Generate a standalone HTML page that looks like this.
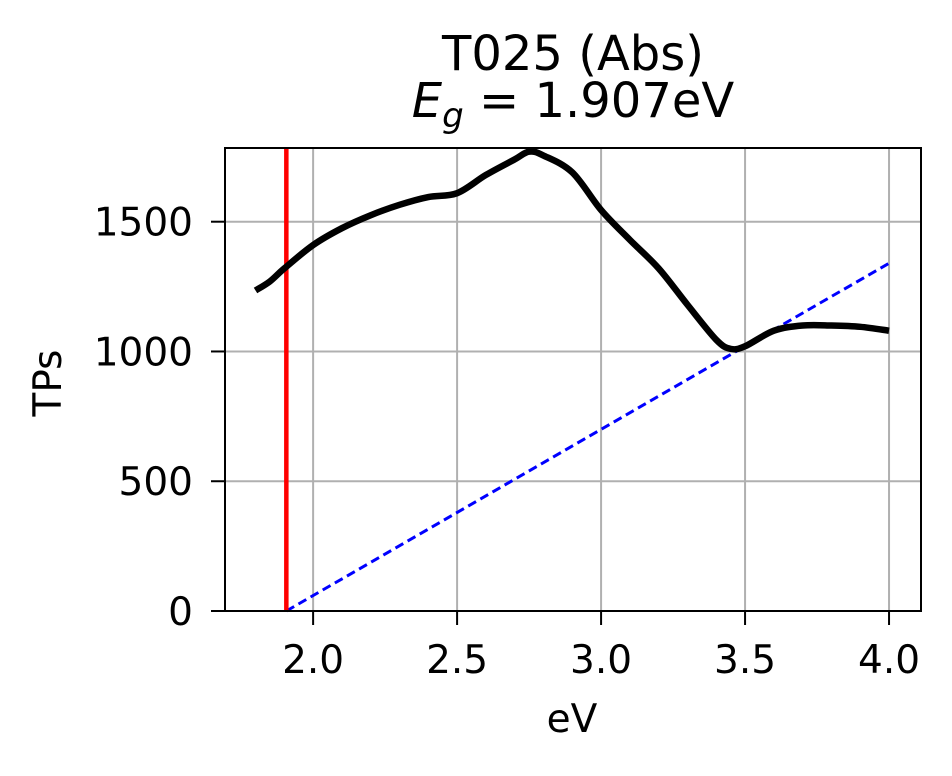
<!DOCTYPE html>
<html><head><meta charset="utf-8"><style>
body{margin:0;background:#fff}
svg text{font-family:"DejaVu Sans","Liberation Sans",sans-serif;fill:#000}
</style></head><body>
<svg width="952" height="771" viewBox="0 0 952 771">
<g id="grid"></g>
<g id="marks"></g>
<rect x="225" y="148" width="696" height="463" fill="none" stroke="#000" stroke-width="2"/>
<g id="ticks"></g>
<text x="573" y="70" style="font-size:48px" text-anchor="middle">T025 (Abs)</text>
<text x="573" y="117" style="font-size:48px" text-anchor="middle"><tspan font-style="italic">E</tspan><tspan font-style="italic" style="font-size:34px" dy="10">g</tspan><tspan dy="-10"> = 1.907eV</tspan></text>
<text x="572" y="732" style="font-size:39px" text-anchor="middle">eV</text>
<text x="0" y="0" style="font-size:39px" text-anchor="middle" transform="translate(61,383) rotate(-90)">TPs</text>
</svg>
<script>
const xTicks=[2.0,2.5,3.0,3.5,4.0];
const xTickLabels=["2.0","2.5","3.0","3.5","4.0"];
const yTicks=[0,500,1000,1500];
const yTickLabels=["0","500","1000","1500"];
const curveX=[1.8,1.85,1.9,2.0,2.1,2.2,2.3,2.4,2.5,2.6,2.7,2.75,2.8,2.9,3.0,3.1,3.2,3.3,3.4,3.45,3.5,3.6,3.7,3.8,3.9,4.0];
const curveY=[1235,1270,1320,1410,1475,1525,1565,1595,1610,1680,1740,1770,1755,1690,1545,1430,1320,1180,1045,1010,1020,1080,1100,1100,1095,1080];
const fitX=[1.907,4.0];
const fitY=[0,1340];
const bandGap=1.907;
const X0=1.694,X1=4.111,Y0=0,Y1=1784;
const px=x=>225+(x-X0)/(X1-X0)*696;
const py=y=>611-(y-Y0)/(Y1-Y0)*463;
const NS="http://www.w3.org/2000/svg";
function mk(t,a,p){const e=document.createElementNS(NS,t);for(const k in a)e.setAttribute(k,a[k]);p.appendChild(e);return e;}
const grid=document.getElementById('grid'),ticks=document.getElementById('ticks'),marks=document.getElementById('marks');
xTicks.forEach((v,i)=>{const x=px(v);
 const g=mk('line',{x1:x,x2:x,y1:148,y2:611,stroke:'#b0b0b0','stroke-width':2},grid);
 
 
 const t=mk('line',{x1:x,x2:x,y1:611,y2:625,stroke:'#000','stroke-width':2},ticks);
 
 
 const l=mk('text',{x:x,y:673,style:'font-size:39px','text-anchor':'middle'},ticks);l.textContent=xTickLabels[i];
 
 
});
yTicks.forEach((v,i)=>{const y=py(v);
 const g=mk('line',{x1:225,x2:921,y1:y,y2:y,stroke:'#b0b0b0','stroke-width':2},grid);
 
 
 const t=mk('line',{x1:211,x2:225,y1:y,y2:y,stroke:'#000','stroke-width':2},ticks);
 
 
 const l=mk('text',{x:193,y:y+14,style:'font-size:39px','text-anchor':'end'},ticks);l.textContent=yTickLabels[i];
 
 
});
const fit=mk('line',{x1:px(fitX[0]),y1:py(fitY[0]),x2:px(fitX[1]),y2:py(fitY[1]),stroke:'#0000ff','stroke-width':3,'stroke-dasharray':'9,5'},marks);


const red=mk('line',{x1:px(bandGap),x2:px(bandGap),y1:148,y2:611,stroke:'#ff0000','stroke-width':4.5},marks);


const P=curveX.map((x,i)=>[px(x),py(curveY[i])]);
let d='M'+P[0][0]+','+P[0][1];
for(let i=0;i<P.length-1;i++){
 const p0=P[Math.max(0,i-1)],p1=P[i],p2=P[i+1],p3=P[Math.min(P.length-1,i+2)];
 const c1=[p1[0]+(p2[0]-p0[0])/6,p1[1]+(p2[1]-p0[1])/6];
 const c2=[p2[0]-(p3[0]-p1[0])/6,p2[1]-(p3[1]-p1[1])/6];
 d+=' C'+c1.join(',')+' '+c2.join(',')+' '+p2.join(',');
}
const cur=mk('path',{d:d,fill:'none',stroke:'#000','stroke-width':6.5,'stroke-linejoin':'round'},marks);


</script>
</body></html>
